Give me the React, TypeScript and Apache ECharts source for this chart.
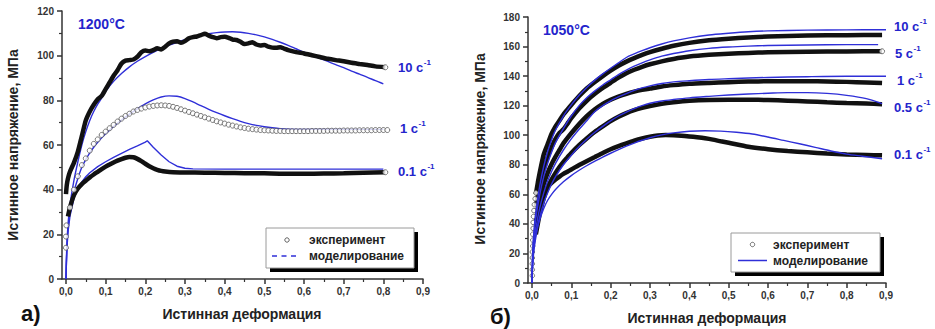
import React, { useEffect, useRef } from "react";
import * as echarts from "echarts";

const FONT = '"Liberation Sans", Arial, Helvetica, sans-serif';
const BLUE = "#2f2fd8";
const BLUE_TEXT = "#2424cc";
const BLACK = "#111111";
const AXIS = "#333333";

const xMajorTicks = [0, 0.1, 0.2, 0.3, 0.4, 0.5, 0.6, 0.7, 0.8, 0.9];
const xMinorTicks = [0.05, 0.15, 0.25, 0.35, 0.45, 0.55, 0.65, 0.75, 0.85];

// ---------- Panel а) 1200°C ----------
const exp10_1200: number[][] = [
  [0, 38], [0.002, 42], [0.005, 45], [0.01, 48], [0.02, 52], [0.03, 57], [0.04, 64], [0.05, 71],
  [0.06, 75], [0.07, 78], [0.08, 80.5], [0.09, 82], [0.1, 85], [0.11, 88], [0.12, 91], [0.13, 93.5],
  [0.14, 96.5], [0.15, 97.8], [0.16, 98], [0.17, 98.3], [0.18, 99.5], [0.19, 101.5], [0.2, 102.3],
  [0.21, 102], [0.22, 102.5], [0.23, 103.3], [0.24, 102.8], [0.25, 104], [0.26, 105.5], [0.27, 106.3],
  [0.28, 106.5], [0.29, 105.8], [0.3, 106.5], [0.31, 107.8], [0.32, 108.3], [0.33, 108.6], [0.34, 109.2],
  [0.35, 109.8], [0.36, 109], [0.37, 108.3], [0.38, 107.8], [0.39, 108.3], [0.4, 108.5], [0.41, 108],
  [0.42, 107.2], [0.43, 107], [0.44, 106.2], [0.45, 105.2], [0.46, 105.5], [0.47, 106], [0.48, 105],
  [0.49, 104.6], [0.5, 104.8], [0.51, 104], [0.52, 103.6], [0.53, 103.5], [0.54, 103.8], [0.55, 103.2],
  [0.56, 102.5], [0.58, 101.6], [0.6, 101], [0.62, 100.2], [0.64, 99.4], [0.66, 98.6], [0.68, 98],
  [0.7, 97.5], [0.72, 96.8], [0.74, 96.3], [0.76, 95.8], [0.78, 95.2], [0.805, 94.8],
];
const mod10_1200: number[][] = [
  [0, 0], [0.002, 14], [0.005, 24], [0.01, 33], [0.02, 44], [0.03, 52.5], [0.04, 60], [0.05, 66],
  [0.06, 71], [0.07, 75], [0.08, 78.3], [0.09, 81], [0.1, 84], [0.12, 88.5], [0.14, 92], [0.16, 95],
  [0.18, 97.5], [0.2, 99.6], [0.22, 101.5], [0.24, 103.2], [0.26, 104.7], [0.28, 106], [0.3, 107.2],
  [0.32, 108.2], [0.34, 109.1], [0.36, 109.8], [0.38, 110.3], [0.4, 110.6], [0.42, 110.7], [0.44, 110.5],
  [0.46, 110], [0.48, 109.3], [0.5, 108.4], [0.52, 107.3], [0.54, 106], [0.56, 104.6], [0.58, 103.1],
  [0.6, 101.6], [0.62, 100.2], [0.64, 98.8], [0.66, 97.4], [0.68, 96], [0.7, 94.6], [0.72, 93.1],
  [0.74, 91.7], [0.76, 90.3], [0.78, 88.8], [0.8, 87.4],
];
const exp1_1200: number[][] = [
  [0, 14], [0, 19], [0.001, 24], [0.01, 32], [0.02, 40], [0.03, 46], [0.04, 51], [0.05, 54],
  [0.06, 57.5], [0.07, 60.5], [0.08, 62.5], [0.09, 64.5], [0.1, 66], [0.11, 67.5], [0.12, 69],
  [0.13, 70.5], [0.14, 71.8], [0.15, 73], [0.16, 74], [0.17, 75], [0.18, 75.7], [0.19, 76.3],
  [0.2, 76.8], [0.21, 77.2], [0.22, 77.5], [0.23, 77.7], [0.24, 77.8], [0.25, 77.7], [0.26, 77.5],
  [0.27, 77.1], [0.28, 76.6], [0.29, 76], [0.3, 75.4], [0.31, 74.8], [0.32, 74.2], [0.33, 73.6],
  [0.34, 73], [0.35, 72.4], [0.36, 71.8], [0.37, 71.2], [0.38, 70.6], [0.39, 70.1], [0.4, 69.6],
  [0.41, 69.1], [0.42, 68.7], [0.43, 68.3], [0.44, 67.9], [0.45, 67.6], [0.46, 67.3], [0.47, 67.1],
  [0.48, 66.9], [0.49, 66.7], [0.5, 66.6], [0.51, 66.5], [0.52, 66.4], [0.53, 66.3], [0.54, 66.3],
  [0.55, 66.2], [0.56, 66.2], [0.57, 66.2], [0.58, 66.2], [0.59, 66.2], [0.6, 66.2], [0.61, 66.2],
  [0.62, 66.3], [0.63, 66.3], [0.64, 66.3], [0.65, 66.3], [0.66, 66.4], [0.67, 66.4], [0.68, 66.4],
  [0.69, 66.4], [0.7, 66.5], [0.71, 66.5], [0.72, 66.5], [0.73, 66.5], [0.74, 66.6], [0.75, 66.6],
  [0.76, 66.6], [0.77, 66.6], [0.78, 66.7], [0.79, 66.7], [0.8, 66.7], [0.81, 66.7],
];
const mod1_1200: number[][] = [
  [0, 0], [0.002, 12], [0.005, 22], [0.01, 30], [0.02, 39], [0.03, 45], [0.04, 50], [0.05, 53.5],
  [0.06, 56.5], [0.07, 59], [0.08, 61.2], [0.09, 63.2], [0.1, 65], [0.12, 68.3], [0.14, 71.2],
  [0.16, 73.8], [0.18, 76.2], [0.2, 78.4], [0.22, 80.2], [0.24, 81.5], [0.26, 82], [0.28, 81.8],
  [0.3, 80.8], [0.32, 79.3], [0.34, 77.6], [0.36, 76], [0.38, 74.5], [0.4, 73.1], [0.42, 71.8],
  [0.44, 70.6], [0.46, 69.6], [0.48, 68.8], [0.5, 68.2], [0.52, 67.7], [0.54, 67.3], [0.56, 67.1],
  [0.6, 67], [0.7, 67], [0.8, 67],
];
const exp01_1200: number[][] = [
  [0.005, 28], [0.01, 32], [0.02, 37.5], [0.03, 40.5], [0.04, 42.5], [0.05, 44], [0.06, 45.5],
  [0.07, 46.8], [0.08, 48], [0.09, 49.2], [0.1, 50.3], [0.11, 51.3], [0.12, 52.2], [0.13, 53],
  [0.14, 53.7], [0.15, 54.3], [0.16, 54.6], [0.17, 54.5], [0.18, 53.8], [0.19, 52.8], [0.2, 51.6],
  [0.21, 50.5], [0.22, 49.6], [0.23, 48.9], [0.24, 48.4], [0.25, 48.1], [0.27, 47.8], [0.3, 47.7],
  [0.35, 47.6], [0.4, 47.5], [0.45, 47.4], [0.5, 47.3], [0.55, 47.1], [0.6, 47.1], [0.65, 47.2],
  [0.7, 47.3], [0.75, 47.6], [0.805, 47.8],
];
const mod01_1200: number[][] = [
  [0, 0], [0.002, 12], [0.005, 21], [0.01, 28], [0.02, 36], [0.03, 40.5], [0.04, 43.5], [0.05, 45.8],
  [0.06, 47.6], [0.08, 50.3], [0.1, 52.5], [0.12, 54.5], [0.14, 56.3], [0.16, 58], [0.18, 59.6],
  [0.2, 61.3], [0.205, 61.9], [0.22, 59], [0.24, 55.5], [0.26, 52.5], [0.28, 50.5], [0.3, 49.6],
  [0.32, 49.3], [0.4, 49.2], [0.6, 49.2], [0.8, 49.2],
];

// ---------- Panel б) 1050°C ----------
const expStart_1050: number[][] = [
  [0.001, 5], [0.001, 9], [0.001, 13], [0.001, 17], [0.001, 21], [0.002, 25], [0.002, 29],
  [0.002, 33], [0.003, 37], [0.003, 41], [0.004, 45], [0.005, 49], [0.006, 53], [0.008, 57], [0.01, 61],
];
const exp10_1050: number[][] = [
  [0.01, 60], [0.015, 68], [0.02, 75], [0.03, 87], [0.04, 94], [0.05, 101], [0.06, 106], [0.07, 110],
  [0.08, 114], [0.09, 117.3], [0.1, 120.5], [0.12, 126.5], [0.14, 131.8], [0.16, 136], [0.18, 140],
  [0.2, 143.7], [0.22, 147], [0.24, 149.8], [0.26, 152.2], [0.28, 154.3], [0.3, 156.2], [0.33, 158.5],
  [0.36, 160.5], [0.4, 162.5], [0.45, 164.2], [0.5, 165.3], [0.55, 166.2], [0.6, 166.8], [0.65, 167.2],
  [0.7, 167.5], [0.8, 167.7], [0.89, 167.8],
];
const mod10_1050: number[][] = [
  [0, 0], [0.002, 22], [0.005, 35], [0.01, 48], [0.02, 66], [0.03, 79], [0.04, 89], [0.05, 97],
  [0.06, 103.5], [0.08, 113], [0.1, 120.5], [0.12, 127], [0.14, 132.5], [0.16, 137.3], [0.18, 141.5],
  [0.2, 145.3], [0.22, 149], [0.24, 152.6], [0.26, 155], [0.28, 157.2], [0.3, 159.2], [0.33, 161.7],
  [0.36, 163.8], [0.4, 165.9], [0.45, 167.8], [0.5, 169], [0.55, 170], [0.6, 170.6], [0.7, 171.1],
  [0.8, 171.3], [0.9, 171.4],
];
const exp5_1050: number[][] = [
  [0.01, 52], [0.02, 66], [0.03, 77], [0.04, 85.5], [0.05, 92], [0.06, 97.5], [0.07, 101.5],
  [0.08, 104], [0.09, 107.7], [0.1, 111.5], [0.12, 118], [0.14, 123.5], [0.16, 128], [0.18, 132],
  [0.2, 135.5], [0.22, 139], [0.24, 142], [0.26, 144.3], [0.28, 146.3], [0.3, 148], [0.33, 150],
  [0.36, 151.6], [0.4, 153.2], [0.45, 154.4], [0.5, 155.2], [0.55, 155.7], [0.6, 156.1], [0.7, 156.5],
  [0.8, 156.7], [0.89, 156.8],
];
const mod5_1050: number[][] = [
  [0, 0], [0.002, 20], [0.005, 32], [0.01, 44], [0.02, 60], [0.03, 72], [0.04, 81], [0.05, 88.5],
  [0.06, 95], [0.08, 104.5], [0.1, 113], [0.12, 120], [0.14, 125.5], [0.16, 130], [0.18, 134],
  [0.2, 137.5], [0.22, 141], [0.24, 144], [0.26, 146.7], [0.28, 149], [0.3, 151], [0.33, 153.5],
  [0.36, 155.3], [0.4, 157.2], [0.45, 158.8], [0.5, 159.7], [0.55, 160.3], [0.6, 160.7], [0.7, 161.1],
  [0.8, 161.3], [0.88, 161.3],
];
const exp1_1050: number[][] = [
  [0.01, 42], [0.02, 57], [0.03, 67], [0.04, 74.5], [0.05, 80.5], [0.06, 85.5], [0.07, 90],
  [0.08, 94.5], [0.09, 98], [0.1, 101.3], [0.12, 107.5], [0.14, 113], [0.16, 117.5], [0.18, 121.2],
  [0.2, 124], [0.22, 126.2], [0.24, 128], [0.26, 129.5], [0.28, 130.7], [0.3, 131.6], [0.33, 133],
  [0.36, 133.9], [0.4, 134.8], [0.45, 135.4], [0.5, 135.9], [0.55, 136.3], [0.6, 136.5], [0.65, 136.6],
  [0.7, 136.6], [0.75, 136.4], [0.8, 136.1], [0.85, 135.7], [0.89, 135.3],
];
const mod1_1050: number[][] = [
  [0, 0], [0.002, 16], [0.005, 27], [0.01, 37], [0.02, 51], [0.03, 61], [0.04, 69], [0.05, 75.5],
  [0.06, 81], [0.08, 90], [0.1, 97.5], [0.12, 104], [0.14, 110], [0.16, 116], [0.18, 120],
  [0.2, 123.3], [0.22, 125.9], [0.24, 128.2], [0.26, 130.3], [0.28, 132], [0.3, 133.4], [0.33, 135],
  [0.36, 136.1], [0.4, 136.9], [0.45, 137.7], [0.5, 138.2], [0.6, 139.1], [0.7, 139.6], [0.8, 139.9],
  [0.9, 139.9],
];
const exp05_1050: number[][] = [
  [0.01, 33], [0.02, 47], [0.03, 57.5], [0.04, 64.5], [0.05, 70], [0.06, 74.5], [0.07, 78.5],
  [0.08, 82], [0.09, 85], [0.1, 88], [0.12, 93.3], [0.14, 98], [0.16, 102.3], [0.18, 106],
  [0.2, 109.5], [0.22, 112.5], [0.24, 115], [0.26, 117], [0.28, 118.5], [0.3, 119.8], [0.33, 121.3],
  [0.36, 122.3], [0.4, 123.3], [0.45, 123.9], [0.5, 124], [0.55, 124], [0.6, 123.8], [0.65, 123.4],
  [0.7, 122.9], [0.75, 122.3], [0.8, 121.8], [0.85, 121.4], [0.89, 121],
];
const mod05_1050: number[][] = [
  [0, 0], [0.002, 14], [0.005, 24], [0.01, 33], [0.02, 45], [0.03, 54], [0.04, 61], [0.05, 67],
  [0.06, 72], [0.08, 80], [0.1, 86.5], [0.12, 92.3], [0.14, 97.5], [0.16, 102], [0.18, 106],
  [0.2, 109.7], [0.22, 113], [0.24, 115.7], [0.26, 118], [0.28, 120], [0.3, 121.6], [0.33, 123.2],
  [0.36, 124.2], [0.4, 125.3], [0.45, 126.3], [0.5, 127.2], [0.55, 127.9], [0.6, 128.4], [0.65, 128.8],
  [0.7, 128.8], [0.75, 128.3], [0.8, 127], [0.85, 124.8], [0.89, 121.4],
];
const exp01_1050: number[][] = [
  [0.01, 36], [0.015, 50], [0.02, 56], [0.03, 61.5], [0.04, 65], [0.05, 67.7], [0.06, 70], [0.07, 72],
  [0.08, 73.8], [0.09, 75.3], [0.1, 76.8], [0.12, 79.8], [0.14, 82.6], [0.16, 85.3], [0.18, 88],
  [0.2, 90.5], [0.22, 92.6], [0.24, 94.5], [0.26, 96.3], [0.28, 97.8], [0.3, 99], [0.32, 99.8],
  [0.34, 100.1], [0.36, 100], [0.38, 99.7], [0.4, 99.2], [0.42, 98.6], [0.44, 97.9], [0.46, 97],
  [0.48, 95.9], [0.5, 94.9], [0.55, 92.2], [0.6, 90.5], [0.65, 89.3], [0.7, 88.5], [0.75, 87.6],
  [0.8, 86.9], [0.85, 86.6], [0.89, 86.4],
];
const mod01_1050: number[][] = [
  [0, 0], [0.002, 12], [0.005, 22], [0.01, 31], [0.015, 38], [0.02, 43], [0.03, 50.5], [0.04, 56],
  [0.05, 60], [0.06, 63.3], [0.08, 68.5], [0.1, 72.7], [0.12, 76.3], [0.14, 79.5], [0.16, 82.4],
  [0.18, 85.2], [0.2, 87.8], [0.22, 90.3], [0.24, 92.6], [0.26, 94.7], [0.28, 96.6], [0.3, 98.3],
  [0.33, 100.2], [0.36, 101.6], [0.4, 102.7], [0.44, 103], [0.48, 102.8], [0.52, 102], [0.56, 100.8],
  [0.6, 98.8], [0.64, 96.5], [0.68, 94.2], [0.72, 91.8], [0.76, 89.3], [0.8, 87.2], [0.84, 85.8],
  [0.89, 84.1],
];

const rateLabels1200 = ["10", "1", "0.1"];
const rateLabels1050 = ["10", "5", "1", "0.5", "0.1"];

const tickFmt = (v: number) => v.toFixed(1).replace(".", ",");

const labelStyle = {
  fontSize: 10,
  fontWeight: "bold" as const,
  color: "#333",
  fontFamily: FONT,
};

let measureCtx: CanvasRenderingContext2D | null = null;
function textWidth(text: string, font: string) {
  if (!measureCtx) {
    const c = document.createElement("canvas");
    measureCtx = c.getContext("2d");
  }
  if (!measureCtx) return text.length * 7;
  measureCtx.font = font;
  return measureCtx.measureText(text).width;
}

function xMain(grid: number) {
  return {
    type: "value",
    gridIndex: grid,
    min: -0.01,
    max: 0.9,
    position: "bottom",
    splitLine: { show: false },
    axisLine: { show: true, onZero: false, lineStyle: { color: AXIS, width: 1.5 } },
    axisTick: { show: true, customValues: xMajorTicks, length: 5, lineStyle: { color: AXIS, width: 1.5 } },
    axisLabel: { show: true, customValues: xMajorTicks, formatter: tickFmt, margin: 7, ...labelStyle },
  };
}
function xMinor(grid: number) {
  return {
    type: "value",
    gridIndex: grid,
    min: -0.01,
    max: 0.9,
    position: "bottom",
    splitLine: { show: false },
    axisLine: { show: false, onZero: false },
    axisLabel: { show: false },
    axisTick: { show: true, customValues: xMinorTicks, length: 3, lineStyle: { color: AXIS, width: 1.2 } },
  };
}
function yMain(grid: number, max: number) {
  return {
    type: "value",
    gridIndex: grid,
    min: 0,
    max,
    interval: 20,
    splitLine: { show: false },
    axisLine: { show: true, onZero: false, lineStyle: { color: AXIS, width: 1.5 } },
    axisTick: { show: true, length: 5, lineStyle: { color: AXIS, width: 1.5 } },
    minorTick: { show: true, splitNumber: 2, length: 3, lineStyle: { color: AXIS, width: 1.2 } },
    axisLabel: { margin: 8, ...labelStyle },
  };
}

function modelLine(data: number[][], xi: number, yi: number, z: number, smooth: number | boolean = 0.3) {
  return {
    type: "line",
    xAxisIndex: xi,
    yAxisIndex: yi,
    data,
    symbol: "none",
    smooth,
    lineStyle: { color: BLUE, width: 1.4 },
    z,
  };
}
function expLine(data: number[][], xi: number, yi: number, z: number) {
  return {
    type: "line",
    xAxisIndex: xi,
    yAxisIndex: yi,
    data,
    symbol: "none",
    smooth: 0.2,
    lineStyle: { color: BLACK, width: 4.5 },
    z,
  };
}
function openCircles(data: number[][], xi: number, yi: number, z: number, size = 5) {
  return {
    type: "scatter",
    xAxisIndex: xi,
    yAxisIndex: yi,
    data,
    symbol: "circle",
    symbolSize: size,
    itemStyle: { color: "#ffffff", borderColor: "#555", borderWidth: 1 },
    z,
  };
}

const last = (a: number[][]) => a[a.length - 1];

function rateText(rate: string, x: number, y: number) {
  const main = `${rate} с`;
  const w = textWidth(main, `bold 13px ${FONT}`);
  return [
    {
      type: "text",
      x,
      y,
      style: { text: main, fontSize: 13, fontWeight: "bold", fontFamily: FONT, fill: BLUE_TEXT, verticalAlign: "middle" },
      z: 50,
    },
    {
      type: "text",
      x: x + w + 0.5,
      y: y - 5,
      style: { text: "-1", fontSize: 8, fontWeight: "bold", fontFamily: FONT, fill: BLUE_TEXT, verticalAlign: "middle" },
      z: 50,
    },
  ];
}

function plainText(text: string, x: number, y: number, fontSize: number, fill: string, extra: any = {}) {
  return {
    type: "text",
    x,
    y,
    ...extra,
    style: {
      text,
      fontSize,
      fontWeight: "bold",
      fontFamily: FONT,
      fill,
      align: extra.align || "left",
      verticalAlign: "middle",
    },
    z: 50,
  };
}

function legend(box: { x: number; y: number; w: number; h: number }, circle: number[], line: number[], textX: number, rowY: number[], dashed: boolean) {
  return [
    { type: "rect", shape: { x: box.x + 4, y: box.y + 4, width: box.w, height: box.h }, style: { fill: "#000" }, z: 60 },
    { type: "rect", shape: { x: box.x, y: box.y, width: box.w, height: box.h }, style: { fill: "#fff", stroke: "#9a9a9a", lineWidth: 1 }, z: 61 },
    { type: "circle", shape: { cx: circle[0], cy: circle[1], r: 2.2 }, style: { fill: "#fff", stroke: "#666", lineWidth: 1 }, z: 62 },
    {
      type: "line",
      shape: { x1: line[0], y1: line[2], x2: line[1], y2: line[2] },
      style: { stroke: BLUE, lineWidth: 1.5, lineDash: dashed ? [5, 4.5] : null },
      z: 62,
    },
    { type: "text", x: textX, y: rowY[0], style: { text: "эксперимент", fontSize: 12, fontWeight: "bold", fontFamily: FONT, fill: "#222", verticalAlign: "middle" }, z: 62 },
    { type: "text", x: textX, y: rowY[1], style: { text: "моделирование", fontSize: 12, fontWeight: "bold", fontFamily: FONT, fill: "#222", verticalAlign: "middle" }, z: 62 },
  ];
}

export default function App() {
  const ref = useRef<HTMLDivElement>(null);

  useEffect(() => {
    if (!ref.current) return;
    const chart = echarts.init(ref.current, null, { renderer: "svg" });
    const option: any = {
      animation: false,
      backgroundColor: "#ffffff",
      grid: [
        { left: 62, top: 11, width: 361, height: 268 },
        { left: 528, top: 17, width: 358, height: 266 },
      ],
      xAxis: [xMain(0), xMinor(0), xMain(1), xMinor(1)],
      yAxis: [yMain(0, 120), yMain(1, 180)],
      series: [
        // Panel а
        modelLine(mod10_1200, 0, 0, 2),
        modelLine(mod1_1200, 0, 0, 2),
        modelLine(mod01_1200, 0, 0, 2, false),
        expLine(exp10_1200, 0, 0, 3),
        expLine(exp01_1200, 0, 0, 3),
        openCircles(exp1_1200, 0, 0, 4),
        openCircles([last(exp10_1200), last(exp01_1200)], 0, 0, 5),
        // Panel б
        expLine(exp10_1050, 2, 1, 2),
        expLine(exp5_1050, 2, 1, 2),
        expLine(exp1_1050, 2, 1, 2),
        expLine(exp05_1050, 2, 1, 2),
        expLine(exp01_1050, 2, 1, 2),
        openCircles(expStart_1050, 2, 1, 3, 4.5),
        openCircles([last(exp5_1050)], 2, 1, 3),
        modelLine(mod10_1050, 2, 1, 4),
        modelLine(mod5_1050, 2, 1, 4),
        modelLine(mod1_1050, 2, 1, 4),
        modelLine(mod05_1050, 2, 1, 4),
        modelLine(mod01_1050, 2, 1, 4),
      ],
      graphic: [
        // Panel а texts
        plainText("1200°C", 78, 24, 14, BLUE_TEXT),
        ...rateText(rateLabels1200[0], 398, 67),
        ...rateText(rateLabels1200[1], 400, 128),
        ...rateText(rateLabels1200[2], 398, 171),
        plainText("Истинное напряжение, МПа", 13, 145, 14, "#222", { rotation: Math.PI / 2, align: "center" }),
        plainText("Истинная деформация", 242, 314, 14, "#222", { align: "center" }),
        plainText("а)", 21, 313, 22, "#111"),
        ...legend({ x: 266, y: 228, w: 148, h: 40 }, [287, 240], [272, 299, 256], 309, [240, 256], true),
        // Panel б texts
        plainText("1050°C", 543, 30, 14, BLUE_TEXT),
        ...rateText(rateLabels1050[0], 894, 26),
        ...rateText(rateLabels1050[1], 895, 53),
        ...rateText(rateLabels1050[2], 897, 80),
        ...rateText(rateLabels1050[3], 894, 107),
        ...rateText(rateLabels1050[4], 894, 154),
        plainText("Истинное напряжение, МПа", 480, 149, 14, "#222", { rotation: Math.PI / 2, align: "center" }),
        plainText("Истинная деформация", 707, 318, 14, "#222", { align: "center" }),
        plainText("б)", 490, 316, 22, "#111"),
        ...legend({ x: 731, y: 233, w: 149, h: 39 }, [752.5, 244.5], [738, 767, 260.5], 773, [244.5, 260.5], false),
      ],
    };
    chart.setOption(option);
    return () => chart.dispose();
  }, []);

  return (
    <div
      ref={ref}
      style={{ position: "fixed", left: 0, top: 0, width: 935, height: 329, background: "#fff" }}
    />
  );
}
